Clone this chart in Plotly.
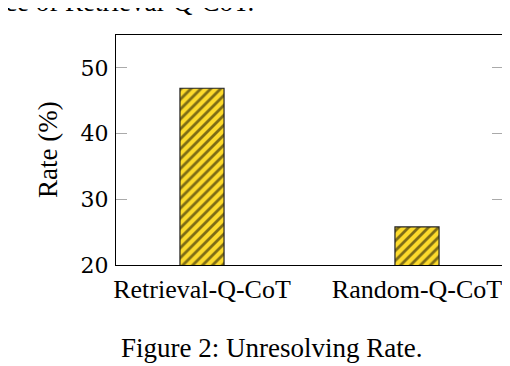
import plotly.graph_objects as go

# Dados
metodos = ['Retrieval-Q-CoT', 'Random-Q-CoT']
taxa = [46.9, 25.8]
posicoes = [0, 1]
ticks_y = [20, 30, 40, 50]

# A página tem margem de 8px no body, então tudo é deslocado 8px
W, H = 502, 358
L, T = 108, 27
PW, PH = 387, 230

fig = go.Figure()

fig.add_trace(
    go.Bar(
        x=posicoes,
        y=taxa,
        base=0,
        width=0.205,
        marker=dict(
            color='#FDDB2C',
            line=dict(color='#222222', width=1.2),
            pattern=dict(shape='/', fgcolor='black', bgcolor='#FDDB2C', size=7, solidity=0.4),
        ),
        showlegend=False,
    )
)

fig.update_layout(
    width=W,
    height=H,
    margin=dict(l=L, r=W - L - PW, t=T, b=H - T - PH),
    plot_bgcolor='white',
    paper_bgcolor='white',
    font=dict(family='Liberation Serif', color='black'),
    xaxis=dict(
        range=[-0.4, 1.4],
        tickvals=posicoes,
        ticktext=metodos,
        ticks='',
        tickfont=dict(size=26),
        ticklabelstandoff=1,
        showgrid=False,
        showline=True,
        linecolor='black',
        linewidth=1.2,
        mirror=True,
        zeroline=False,
        automargin=False,
    ),
    yaxis=dict(
        range=[20, 55],
        tickvals=ticks_y,
        ticks='inside',
        ticklen=11,
        tickcolor='#aaaaaa',
        tickfont=dict(size=22, family='DejaVu Serif'),
        ticklabelstandoff=2,
        showgrid=False,
        showline=True,
        linecolor='black',
        linewidth=1.2,
        mirror='ticks',
        zeroline=False,
        automargin=False,
    ),
)

# Título do eixo y
fig.add_annotation(
    text='Rate (%)', xref='paper', yref='paper',
    x=(40 - L) / PW, y=(T + PH - 142) / PH, xanchor='center', yanchor='middle',
    textangle=-90, showarrow=False, font=dict(size=27),
)

# Legenda da figura
fig.add_annotation(
    text='Figure 2: Unresolving Rate.', xref='paper', yref='paper',
    x=(263 - L) / PW, y=-(340 - T - PH) / PH, xanchor='center', yanchor='middle',
    showarrow=False, font=dict(size=27),
)

# Texto cortado no topo
fig.add_annotation(
    text='ce of Retrieval-Q-CoT.', xref='paper', yref='paper',
    x=(248 - L) / PW, y=1 + (T + 6) / PH, xanchor='right', yanchor='middle',
    showarrow=False, font=dict(size=27),
)

fig.write_html('out.html')
